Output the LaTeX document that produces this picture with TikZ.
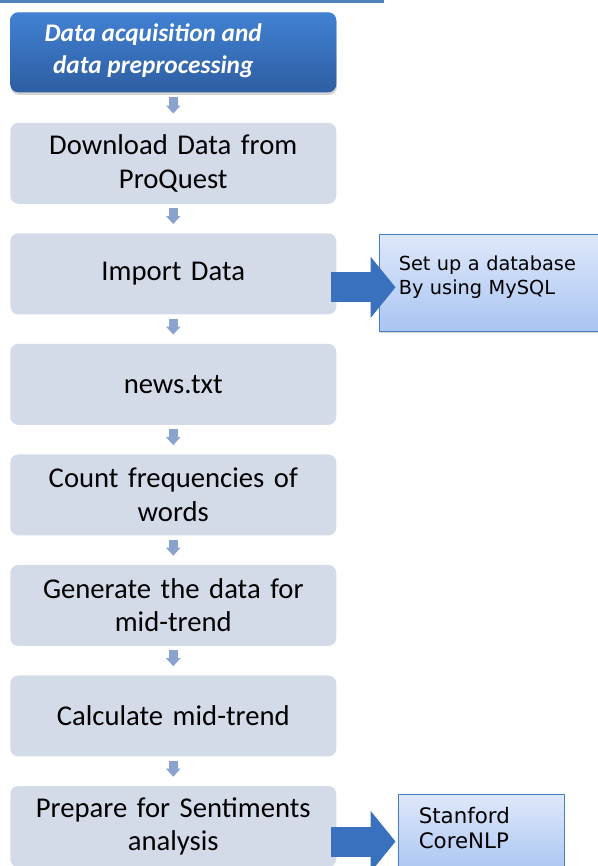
\documentclass[tikz,border=0pt]{standalone}
\usepackage{fontspec}
\setmainfont{Carlito}
\newfontfamily\notefont{DejaVu Sans}
\usetikzlibrary{arrows.meta,positioning,shadows}
\definecolor{barblue}{HTML}{4F81BD}
\definecolor{hdrtop}{HTML}{4181D3}
\definecolor{hdrbot}{HTML}{2E5EA2}
\definecolor{boxgray}{HTML}{D3DBE9}
\definecolor{tipgray}{HTML}{8AA2CE}
\definecolor{notetop}{HTML}{DFE8FA}
\definecolor{notebot}{HTML}{A9C5F2}
\definecolor{noteline}{HTML}{4A7EC0}
\definecolor{arrblue}{HTML}{3A71BE}
\tikzset{stepbox/.style={fill=boxgray,rounded corners=6pt,minimum height=60.75pt,
 text width=244.5pt,inner xsep=0pt,align=center,font=\fontsize{21.5}{25}\selectfont},
 hdrbox/.style={stepbox,top color=hdrtop,bottom color=hdrbot,minimum height=60pt,
 drop shadow={opacity=0.35,shadow xshift=0.5pt,shadow yshift=-2pt}},
 hdrtext/.style={text=white,align=center,font=\fontsize{19}{24}\selectfont\bfseries\itshape},
 notebox/.style={draw=noteline,top color=notetop,bottom color=notebot,align=left,
 drop shadow={opacity=0.3,shadow xshift=1pt,shadow yshift=-1.5pt}},
 downarr/.style={-{Triangle[length=6pt,width=10.5pt]},line width=6.75pt,draw=tipgray,
 shorten <=3pt,shorten >=6.75pt},
 bigarr/.style={-{Triangle[length=18.75pt,width=45pt]},line width=22.5pt,draw=arrblue}}

\begin{document}
\begin{tikzpicture}[node distance=21.75pt]
\useasboundingbox (0,0) rectangle (447.75pt,-649.5pt);
\fill[barblue] (0,0) rectangle (288pt,-2.25pt);
\node[hdrbox,anchor=north west] (hdr) at (7.5pt,-9pt) {};
\node[hdrtext] (hdrlbl) at ([xshift=-15pt,yshift=1pt]hdr.center) {Data acquisition and\\data preprocessing};
\node[stepbox,below=22.5pt of hdr] (dl) {Download Data from\\ProQuest};
\node[stepbox,below=of dl] (imp) {Import Data};
\node[stepbox,below=of imp] (news) {news.txt};
\node[stepbox,below=of news] (cnt) {Count frequencies of\\words};
\node[stepbox,below=of cnt] (gen) {Generate the data for\\mid-trend};
\node[stepbox,below=of gen] (calc) {Calculate mid-trend};
\node[stepbox,below=of calc] (prep) {Prepare for Sentiments\\analysis};
% side notes
\node[notebox,right=31.5pt of imp,yshift=-6.75pt,minimum height=72.75pt,
 inner xsep=15pt,text width=134.25pt,text depth=30pt,
 font=\notefont\fontsize{14.5}{18}\selectfont] (db) {Set up a database\\By using MySQL};
\node[notebox,right=45.75pt of prep,yshift=-5.6pt,minimum height=59.25pt,
 inner xsep=15.75pt,text width=93pt,text depth=28pt,
 font=\notefont\fontsize{16}{19}\selectfont] (nlp) {Stanford\\CoreNLP};
\draw[downarr] (hdr)--(dl);
\draw[downarr] (dl)--(imp);
\draw[downarr] (imp)--(news);
\draw[downarr] (news)--(cnt);
\draw[downarr] (cnt)--(gen);
\draw[downarr] (gen)--(calc);
\draw[downarr] (calc)--(prep);
\draw[bigarr] ([xshift=-4.5pt,yshift=-10.1pt]imp.east)--++(48.75pt,0);
\draw[bigarr] ([xshift=-4.5pt,yshift=-11.25pt]prep.east)--++(48.75pt,0);
\end{tikzpicture}
\end{document}
